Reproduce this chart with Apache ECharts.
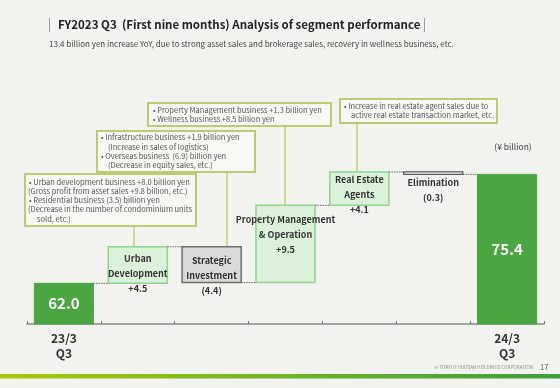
<!DOCTYPE html>
<html><head><meta charset="utf-8">
<script src="https://cdn.jsdelivr.net/npm/echarts@6/dist/echarts.min.js"></script>
<style>html,body{margin:0;padding:0;background:#f2f2ee}#c{width:560px;height:388px}</style>
</head><body><div id="c"></div>
<script>
// ---- data ----
const categories = ['23/3\nQ3', 'Urban\nDevelopment', 'Strategic\nInvestment', 'Property Management\n& Operation', 'Real Estate\nAgents', 'Elimination', '24/3\nQ3'];
const startTotal = 62.0;
const endTotal = 75.4;
const deltas = [4.5, -4.4, 9.5, 4.1, -0.3];
const deltaLabels = ['+4.5', '(4.4)', '+9.5', '+4.1', '(0.3)'];
const totalLabels = ['62.0', '75.4'];
const yMin = 57, yMax = 80;

// ---- derived ----
const rows = [];
const levelBefore = [];
let run = startTotal;
rows.push([0, yMin, startTotal, 'total']);
levelBefore.push(null);
deltas.forEach((d, i) => {
  levelBefore.push(run);
  const lo = Math.min(run, run + d), hi = Math.max(run, run + d);
  rows.push([i + 1, lo, hi, d >= 0 ? 'up' : (i === deltas.length - 1 ? 'elim' : 'down')]);
  run = +(run + d).toFixed(1);
});
levelBefore.push(run);
rows.push([categories.length - 1, yMin, endTotal, 'total']);

const FONT = '"Noto Sans CJK JP", "Noto Sans", sans-serif';
const labelFirstDy = [0, 12, 14, 14, 8, 11, 0];

function renderItem(params, api) {
  const idx = api.value(0), lo = api.value(1), hi = api.value(2);
  const kind = rows[params.dataIndex][3];
  const topP = api.coord([idx, hi]);
  const botP = api.coord([idx, lo]);
  const band = api.size([1, 0])[0];
  const w = band * 0.8;
  const x0 = topP[0] - w / 2;
  const children = [];
  let style;
  if (kind === 'total') style = { fill: '#49a641', stroke: '#49a641', lineWidth: 1 };
  else if (kind === 'up') style = { fill: '#dcf1d9', stroke: '#8fd48c', lineWidth: 1.5 };
  else if (kind === 'down') style = { fill: '#d9d9d9', stroke: '#6f6f6f', lineWidth: 1.5 };
  else style = { fill: '#ffffff', stroke: '#555555', lineWidth: 1.2 };
  children.push({ type: 'rect', shape: { x: x0, y: topP[1], width: w, height: Math.max(botP[1] - topP[1], 1) }, style: style });
  if (idx > 0) {
    const lp = api.coord([idx, levelBefore[idx]]);
    children.push({ type: 'line', shape: { x1: x0 - band * 0.2, y1: lp[1], x2: x0, y2: lp[1] },
      style: { stroke: '#666', lineWidth: 1, lineDash: [1.5, 1] } });
  }
  if (kind === 'total') {
    const t = idx === 0 ? totalLabels[0] : totalLabels[1];
    children.push({ type: 'text', style: { text: t, x: topP[0], y: (topP[1] + botP[1]) / 2, align: 'center', verticalAlign: 'middle',
      fill: '#ffffff', font: 'bold 15px ' + FONT } });
  } else {
    const lines = categories[idx].split('\n').concat([deltaLabels[idx - 1]]);
    const y0 = topP[1] + labelFirstDy[idx];
    lines.forEach((ln, k) => {
      children.push({ type: 'text', style: { text: ln, x: topP[0], y: y0 + k * 15, align: 'center', verticalAlign: 'middle',
        fill: '#333', font: 'bold 9px ' + FONT } });
    });
  }
  return { type: 'group', children: children };
}

const chart = echarts.init(document.getElementById('c'), null, { renderer: 'canvas' });
const option = {
  backgroundColor: '#f2f2ee',
  animation: false,
  grid: { left: 27, right: 16, top: 137, bottom: 64 },
  xAxis: {
    type: 'category', data: categories,
    axisLine: { lineStyle: { color: '#8a8a8a', width: 1.5 } },
    axisTick: { show: true, inside: true, length: 3, lineStyle: { color: '#777' } },
    axisLabel: {
      interval: 0, margin: 7, color: '#333', fontWeight: 'bold', fontSize: 12, lineHeight: 15, fontFamily: FONT,
      formatter: (v, i) => (i === 0 || i === categories.length - 1) ? v : ''
    }
  },
  yAxis: { type: 'value', min: yMin, max: yMax, show: false, splitLine: { show: false } },
  series: [{ type: 'custom', renderItem: renderItem, data: rows.map(r => [r[0], r[1], r[2]]), clip: false }]
};
chart.setOption(option);

function px(idx, v) { return chart.convertToPixel({ gridIndex: 0 }, [idx, v]); }

function box(x, y, w, h, lines) {
  const els = [{ type: 'rect', shape: { x: x, y: y, width: w, height: h }, style: { fill: '#f7f7f3', stroke: '#a9bf48', lineWidth: 1.5 } }];
  lines.forEach(l => {
    els.push({ type: 'text', style: { text: l[1], x: x + l[0], y: y + l[2], verticalAlign: 'middle', fill: '#555', font: '7.5px ' + FONT } });
  });
  return els;
}
function leader(x, yTopBox, idx) {
  const p = px(idx, rows[idx][2]);
  return { type: 'line', shape: { x1: x, y1: yTopBox, x2: x, y2: p[1] }, style: { stroke: '#b7c75a', lineWidth: 1.2 } };
}

let g = [];
// title
g.push({ type: 'rect', shape: { x: 49, y: 18, width: 1, height: 14 }, style: { fill: '#9a9a9a' } });
g.push({ type: 'rect', shape: { x: 424, y: 18, width: 1, height: 14 }, style: { fill: '#9a9a9a' } });
g.push({ type: 'text', style: { text: 'FY2023 Q3  (First nine months) Analysis of segment performance', x: 58, y: 25, verticalAlign: 'middle', fill: '#222', font: 'bold 11.5px ' + FONT } });
g.push({ type: 'text', style: { text: '13.4 billion yen increase YoY, due to strong asset sales and brokerage sales, recovery in wellness business, etc.', x: 49, y: 44, verticalAlign: 'middle', fill: '#444', font: '8px ' + FONT } });
g.push({ type: 'text', style: { text: '(¥ billion)', x: 513, y: 147, align: 'center', verticalAlign: 'middle', fill: '#444', font: '8.5px ' + FONT } });
// leaders
g.push(leader(134, 226, 1));
g.push(leader(227, 172, 2));
g.push(leader(285, 126, 3));
g.push(leader(357, 123, 4));
// boxes
g = g.concat(box(148, 103, 183, 23, [[5, '• Property Management business +1.3 billion yen', 7], [5, '• Wellness business +8.5 billion yen', 16]]));
g = g.concat(box(97, 131, 158, 41, [[4, '• Infrastructure business +1.9 billion yen', 6.5], [11, '(Increase in sales of logistics)', 15.8], [4, '• Overseas business  (6.9) billion yen', 25.1], [11, '(Decrease in equity sales, etc.)', 34.4]]));
g = g.concat(box(25, 174, 171, 52, [[4, '• Urban development business +8.0 billion yen', 7.7], [3, '(Gross profit from asset sales +9.8 billion, etc.)', 17], [4, '• Residential business (3.5) billion yen', 26.3], [3, '(Decrease in the number of condominium units', 35.6], [12, 'sold, etc.)', 44.9]]));
g = g.concat(box(340, 99, 157, 24, [[4, '• Increase in real estate agent sales due to', 6.7], [11, 'active real estate transaction market, etc.', 16.3]]));
// footer
g.push({ type: 'text', style: { text: '© TOKYU FUDOSAN HOLDINGS CORPORATION', x: 533, y: 367, align: 'right', verticalAlign: 'middle', fill: '#888', font: '4.6px ' + FONT } });
g.push({ type: 'text', style: { text: '17', x: 540, y: 367, verticalAlign: 'middle', fill: '#555', font: '7.5px ' + FONT } });
g.push({ type: 'rect', shape: { x: 0, y: 374, width: 560, height: 4.5 }, style: { fill: new echarts.graphic.LinearGradient(0, 0, 1, 0, [{ offset: 0, color: '#a9c90a' }, { offset: 1, color: '#3a9e3e' }]) } });

chart.setOption({ graphic: g.map(e => Object.assign({ silent: true }, e)) });
</script></body></html>
